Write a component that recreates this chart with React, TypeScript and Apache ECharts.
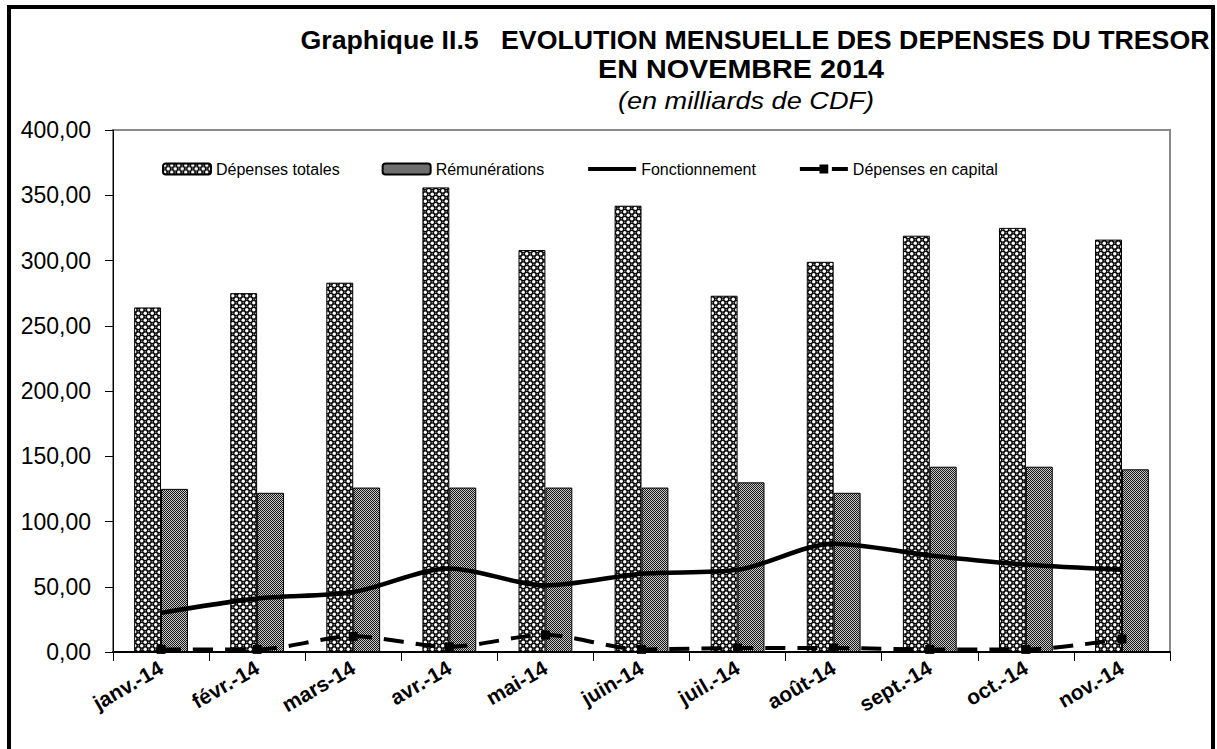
import React, { useEffect, useRef } from "react";
import * as echarts from "echarts";

const categories = ["janv.-14", "févr.-14", "mars-14", "avr.-14", "mai-14", "juin-14", "juil.-14", "août-14", "sept.-14", "oct.-14", "nov.-14"];
const depensesTotales = [264, 275, 283, 356, 308, 342, 273, 299, 319, 325, 316];
const remunerations = [125, 122, 126, 126, 126, 126, 130, 122, 142, 142, 140];
const fonctionnement = [30, 41, 46, 64, 51, 60, 63, 83, 74, 67, 63];
const depensesCapital = [2, 2, 12, 4, 13, 2, 3, 3, 2, 2, 10];
const yTicks = [0, 50, 100, 150, 200, 250, 300, 350, 400];

function makeTotalPattern(): HTMLCanvasElement {
  const c = document.createElement("canvas");
  c.width = 7;
  c.height = 7;
  const ctx = c.getContext("2d")!;
  ctx.fillStyle = "#0a0a0a";
  ctx.fillRect(0, 0, 7, 7);
  ctx.fillStyle = "#fff";
  const dots = [
    [1.75, 1.75],
    [5.25, 5.25],
  ];
  for (const [x, y] of dots) {
    ctx.beginPath();
    ctx.arc(x, y, 1.7, 0, Math.PI * 2);
    ctx.fill();
  }
  ctx.fillStyle = "#ccc";
  ctx.fillRect(4.75, 1.25, 1, 1);
  ctx.fillRect(1.25, 4.75, 1, 1);
  return c;
}

function makeRemPattern(): HTMLCanvasElement {
  const c = document.createElement("canvas");
  c.width = 4;
  c.height = 4;
  const ctx = c.getContext("2d")!;
  ctx.fillStyle = "#c4c4c4";
  ctx.fillRect(0, 0, 4, 4);
  ctx.fillStyle = "#1a1a1a";
  ctx.fillRect(0, 0, 1, 1);
  ctx.fillRect(2, 0, 1, 1);
  ctx.fillRect(1, 1, 1, 1);
  ctx.fillRect(3, 1, 1, 1);
  ctx.fillRect(0, 2, 1, 1);
  ctx.fillRect(2, 2, 1, 1);
  ctx.fillRect(1, 3, 1, 1);
  ctx.fillRect(3, 3, 1, 1);
  return c;
}

export default function App() {
  const ref = useRef<HTMLDivElement>(null);
  useEffect(() => {
    if (!ref.current) return;
    const chart = echarts.init(ref.current, undefined, { renderer: "svg" });
    const totalPattern = { image: makeTotalPattern(), repeat: "repeat" } as any;
    const remPattern = { image: makeRemPattern(), repeat: "repeat" } as any;
    const font = "Arial, 'Liberation Sans', sans-serif";
    chart.setOption({
      animation: false,
      backgroundColor: "#fff",
      textStyle: { fontFamily: font, color: "#000" },
      graphic: [
        {
          type: "rect",
          shape: { x: 9, y: 7, width: 1204, height: 760 },
          style: { fill: "none", stroke: "#000", lineWidth: 4 },
          silent: true,
        },
        {
          type: "text",
          x: 755,
          y: 40,
          scaleX: 1.07,
          style: {
            text: "Graphique II.5   EVOLUTION MENSUELLE DES DEPENSES DU TRESOR",
            font: `bold 25px ${font}`,
            fill: "#000",
            align: "center",
            verticalAlign: "middle",
          },
        },
        {
          type: "text",
          x: 741,
          y: 70,
          scaleX: 1.15,
          style: {
            text: "EN NOVEMBRE 2014",
            font: `bold 25px ${font}`,
            fill: "#000",
            align: "center",
            verticalAlign: "middle",
          },
        },
        {
          type: "text",
          x: 746,
          y: 101,
          scaleX: 1.18,
          style: {
            text: "(en milliards de CDF)",
            font: `italic 23px ${font}`,
            fill: "#000",
            align: "center",
            verticalAlign: "middle",
          },
        },
      ],
      legend: {
        left: 157,
        top: 156,
        itemGap: 42,
        itemWidth: 48,
        itemHeight: 11,
        textStyle: { fontSize: 16, color: "#000", fontFamily: font },
        data: [
          { name: "Dépenses totales" },
          { name: "Rémunérations" },
          {
            name: "Fonctionnement",
            itemStyle: { color: "transparent", borderColor: "transparent", opacity: 0 },
            lineStyle: { width: 4, color: "#000" },
          },
          { name: "Dépenses en capital", lineStyle: { width: 4, color: "#000" } },
        ],
      },
      grid: {
        left: 113,
        right: 47,
        top: 130,
        bottom: 97,
        show: true,
        borderColor: "#8a8a8a",
        borderWidth: 2,
        backgroundColor: "transparent",
      },
      xAxis: {
        type: "category",
        data: categories,
        axisLine: { lineStyle: { color: "#000", width: 2 } },
        axisTick: { show: true, length: 9, lineStyle: { color: "#000", width: 1 } },
        axisLabel: {
          rotate: 30,
          fontSize: 21,
          fontWeight: "bold",
          color: "#000",
          margin: 14,
          interval: 0,
        },
      },
      yAxis: {
        type: "value",
        min: 0,
        max: 400,
        interval: 50,
        axisLine: { show: true, lineStyle: { color: "#000", width: 1 } },
        axisTick: { show: true, length: 8, lineStyle: { color: "#000" } },
        splitLine: { show: false },
        axisLabel: {
          fontSize: 23,
          color: "#000",
          margin: 22,
          formatter: (v: number) => (yTicks.includes(v) ? v.toFixed(2).replace(".", ",") : ""),
        },
      },
      series: [
        {
          name: "Dépenses totales",
          type: "bar",
          data: depensesTotales,
          barGap: "0%",
          barCategoryGap: "44%",
          itemStyle: { color: totalPattern, borderColor: "#000", borderWidth: 1 },
        },
        {
          name: "Rémunérations",
          type: "bar",
          data: remunerations,
          barGap: "0%",
          barCategoryGap: "44%",
          itemStyle: { color: remPattern, borderColor: "#000", borderWidth: 1 },
        },
        {
          name: "Fonctionnement",
          type: "line",
          data: fonctionnement,
          smooth: 0.3,
          showSymbol: false,
          symbol: "none",
          lineStyle: { color: "#000", width: 4.5 },
          itemStyle: { color: "#000" },
          z: 5,
        },
        {
          name: "Dépenses en capital",
          type: "line",
          data: depensesCapital,
          smooth: 0.3,
          symbol: "rect",
          symbolSize: 9,
          lineStyle: { color: "#000", width: 4, type: [20, 12] },
          itemStyle: { color: "#000" },
          z: 6,
        },
      ],
    });
    return () => chart.dispose();
  }, []);
  return (
    <div
      ref={ref}
      style={{ position: "fixed", left: 0, top: 0, width: 1217, height: 749, background: "#fff" }}
    />
  );
}
